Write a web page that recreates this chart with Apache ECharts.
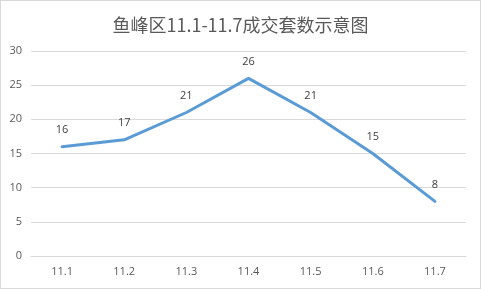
<!DOCTYPE html>
<html><head><meta charset="utf-8">
<script src="https://cdn.jsdelivr.net/npm/echarts@6/dist/echarts.min.js"></script>
<style>html,body{margin:0;padding:0;background:#fff}#c{width:481px;height:289px;box-sizing:border-box;border:1px solid #d9d9d9}</style>
</head><body><div id="c"></div>
<script>
const titleText = '鱼峰区11.1-11.7成交套数示意图';
const categories = ['11.1','11.2','11.3','11.4','11.5','11.6','11.7'];
const values = [16, 17, 21, 26, 21, 15, 8];
const yTicks = {min: 0, max: 30, interval: 5};

const chart = echarts.init(document.getElementById('c'), null, {renderer: 'canvas'});
chart.setOption({
  animation: false,
  backgroundColor: '#fff',
  title: {text: titleText, left: 'center', top: 10,
    textStyle: {fontFamily: '"Noto Sans CJK SC", sans-serif', fontSize: 18, fontWeight: 'normal', color: '#595959'}},
  grid: {left: 30, right: 14, top: 50, bottom: 32},
  xAxis: {type: 'category', data: categories, boundaryGap: true,
    axisLine: {lineStyle: {color: '#d9d9d9', width: 1}}, axisTick: {show: false},
    axisLabel: {color: '#595959', fontSize: 11, margin: 10, fontFamily: '"Open Sans", sans-serif'}},
  yAxis: {type: 'value', min: yTicks.min, max: yTicks.max, interval: yTicks.interval,
    axisLine: {show: false}, axisTick: {show: false},
    splitLine: {lineStyle: {color: '#d9d9d9', width: 1}},
    axisLabel: {color: '#595959', fontSize: 11, margin: 9, fontFamily: '"Open Sans", sans-serif'}},
  series: [{type: 'line', data: values, symbol: 'circle', symbolSize: 2, showSymbol: true,
    itemStyle: {color: 'rgba(0,0,0,0)', borderWidth: 0},
    lineStyle: {color: '#5b9bd5', width: 3, cap: 'round', join: 'round'},
    label: {show: true, position: 'top', distance: 10, color: '#404040', fontSize: 11, fontFamily: '"Open Sans", sans-serif'}}]
});
</script></body></html>
